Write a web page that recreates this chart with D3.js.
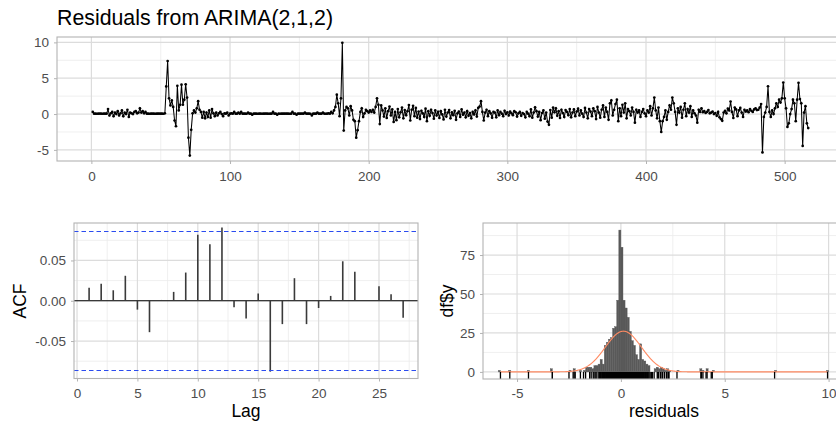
<!DOCTYPE html>
<html><head><meta charset="utf-8">
<script src="https://cdn.jsdelivr.net/npm/d3@7"></script>
<style>body{margin:0;background:#fff}svg{display:block}</style>
</head><body><svg id="c" width="836" height="428"></svg>
<script>
// ---------- DATA ----------
const residuals = [
0.3,0.05,0.05,0.04,0.05,0.06,0.05,0.04,0.05,0.05,
0.05,0.7,-0.2,0.1,0.3,-0.3,0.2,0.0,0.4,-0.2,
0.1,0.5,-0.3,0.2,0.0,0.6,-0.4,0.2,0.1,0.0,
0.3,0.4,0.1,0.2,0.8,0.2,0.4,0.1,0.3,0.05,
0.05,0.04,0.05,0.06,0.05,0.04,0.05,0.05,0.06,0.05,
0.05,0.04,0.1,3.85,7.4,2.2,1.2,1.9,1.0,-0.9,
-1.7,3.95,0.5,1.3,4.1,1.3,2.0,4.15,2.3,-3.3,
-5.8,-2.2,0.1,0.5,0.2,0.8,1.8,0.6,0.3,-0.5,
0.3,-0.6,0.2,-0.4,0.5,-0.5,0.7,0.1,-0.3,0.2,
-0.2,0.1,0.3,0.0,-0.3,0.1,0.05,0.2,-0.2,0.05,
0.1,0.05,0.3,0.05,0.05,0.2,0.05,0.3,0.05,0.05,
0.05,0.04,0.2,0.05,0.05,-0.1,0.05,0.05,0.05,0.04,
0.05,0.06,0.04,0.05,0.05,0.06,0.05,0.04,0.05,0.05,
0.3,0.05,0.05,-0.1,0.05,0.04,0.05,0.05,0.05,0.06,
0.05,0.05,0.04,0.05,0.3,0.05,0.05,-0.1,0.05,0.05,
0.05,0.06,0.05,0.2,0.05,0.05,0.05,0.04,-0.2,0.05,
0.05,0.05,0.2,0.05,0.05,0.05,0.2,0.05,0.04,0.05,
0.1,0.05,0.3,0.1,0.5,1.0,2.7,1.5,-0.3,2.2,
9.95,-2.3,0.5,1.0,0.8,-0.2,1.1,0.5,-0.8,-1.0,
-3.3,-2.25,-1.0,0.3,0.8,-0.4,0.1,0.6,0.4,0.2,
0.5,0.3,0.6,0.2,1.0,2.2,1.3,-1.4,1.2,0.5,
-0.35,0.8,-0.55,0.4,1.05,-0.2,0.65,-1.1,0.3,-0.85,
0.7,-0.45,0.25,0.9,-0.6,0.55,-0.15,0.4,1.25,-0.9,
0.6,1.15,-0.3,0.85,-0.5,0.35,-0.7,0.45,0.1,-0.4,
0.75,-1.0,0.4,-0.25,0.6,0.15,-0.65,0.5,-0.2,0.3,
-0.55,0.4,-0.05,-0.75,0.6,-0.35,0.2,0.55,-0.6,0.25,
-0.15,0.45,-0.8,0.1,0.35,-0.4,0.65,-0.1,0.2,-0.45,
0.4,-0.25,0.15,-0.6,0.3,-0.05,0.5,-0.35,0.85,1.05,
1.8,0.3,-0.9,0.2,0.6,-0.3,0.4,0.1,-0.5,0.3,
0.2,-0.45,0.5,-0.15,0.3,0.05,-0.3,0.45,0.0,0.25,
-0.2,0.35,0.1,-0.15,0.4,0.25,-0.35,0.1,0.3,-0.25,
0.15,0.0,-0.45,0.3,0.05,-0.3,0.65,-0.5,0.2,0.95,
0.4,-0.35,0.3,-0.85,0.15,0.5,-0.65,0.2,-1.05,-1.5,
0.55,-0.5,0.9,0.25,0.8,-0.25,0.4,-0.55,0.6,0.15,
-0.4,0.55,0.3,-0.15,0.7,-0.45,0.2,0.65,-0.3,0.35,
0.75,-0.2,0.5,0.05,-0.4,0.85,0.2,-0.6,0.7,0.35,
-0.3,0.8,0.4,-0.7,1.0,0.2,-0.5,0.6,1.2,-0.4,
0.9,0.3,-0.8,1.5,1.9,-0.2,0.6,1.4,2.0,-1.0,
0.8,-0.3,1.3,0.2,1.5,-0.6,0.7,0.4,-0.2,0.9,
0.3,-1.2,0.6,0.2,0.5,-0.4,0.3,0.7,0.1,-0.3,
0.5,0.2,1.1,-0.2,0.8,2.3,0.5,-0.6,0.9,-1.0,
-2.5,-1.0,-0.4,0.5,-0.8,0.3,1.2,0.6,2.3,1.5,
0.3,-1.5,0.8,0.2,1.0,-0.5,0.6,1.5,-0.3,0.7,
0.2,1.1,-0.4,0.5,0.1,-0.2,-1.2,0.6,0.3,0.8,
0.25,0.4,0.15,0.3,0.55,0.1,0.2,0.35,0.0,0.15,
-0.25,0.3,-0.45,-0.7,-0.95,0.2,0.45,0.1,0.75,0.5,
1.75,0.3,-0.55,0.9,0.65,-0.3,0.5,0.85,0.2,-0.4,
0.6,0.35,0.5,0.25,0.7,0.45,0.3,0.65,0.8,0.55,
0.6,0.9,1.4,-5.35,-0.4,0.2,1.0,3.88,0.3,-0.4,
0.5,0.0,0.8,1.5,1.0,2.0,1.6,2.2,4.4,2.2,
0.8,-1.8,-1.3,0.0,0.7,2.0,1.5,-1.0,2.0,4.35,
2.1,1.5,-4.45,0.2,1.1,-1.3,-1.95
];
const timeTicks = [0, 100, 200, 300, 400, 500];
const timeMinor = [50, 150, 250, 350, 450];
const residTicks = [-5, 0, 5, 10];
const residMinor = [-2.5, 2.5, 7.5];

const acfLags = [1,2,3,4,5,6,7,8,9,10,11,12,13,14,15,16,17,18,19,20,21,22,23,24,25,26,27];
const acfValues = [0.016,0.021,0.013,0.031,-0.011,-0.039,0.001,0.011,0.035,0.082,0.070,0.091,-0.008,-0.022,0.009,-0.088,-0.029,0.028,-0.029,-0.009,0.006,0.049,0.036,0.000,0.018,0.008,-0.021];
const acfBound = 0.0862;
const lagTicks = [0, 5, 10, 15, 20, 25];
const lagMinor = [2.5, 7.5, 12.5, 17.5, 22.5, 27.5];
const acfTicks = [-0.05, 0, 0.05];
const acfMinor = [-0.075, -0.025, 0.025, 0.075];

const binWidth = 0.1;
const histStart = [-5.9,-5.4,-4.5,-3.4,-2.5,-2.3,-2.0,-1.8,-1.7,-1.6,-1.5,-1.4,-1.3,-1.2,-1.1,-1.0,-0.9,-0.8,-0.7,-0.6,-0.5,-0.4,-0.3,-0.2,-0.1,
  0.0,0.1,0.2,0.3,0.4,0.5,0.6,0.7,0.8,0.9,1.0,1.1,1.2,1.3,1.6,1.7,1.8,1.9,2.0,2.1,2.2,2.3,2.7,3.8,3.9,4.1,4.4,7.4,9.9];
const histCount = [1,1,1,2,1,2,1,1,3,3,3,2,4,4,5,8,5,17,19,21,22,28,29,46,91,
  80,46,41,35,26,20,17,11,8,18,8,7,5,4,2,3,2,3,2,1,2,1,1,2,1,2,1,1,1];
const histXTicks = [-5, 0, 5, 10];
const histXMinor = [-2.5, 2.5, 7.5];
const histYTicks = [0, 25, 50, 75];
const histYMinor = [12.5, 37.5, 62.5, 87.5];
const normMean = 0.12, normSd = 0.87, normScale = 57;

// ---------- DRAWING ----------
const FONT = '"Liberation Sans", Arial, Helvetica, sans-serif';
const TICK_FS = 13.5, TITLE_FS = 17.5;
const svg = d3.select("#c").attr("font-family", FONT);
svg.append("rect").attr("width", 836).attr("height", 428).attr("fill", "#fff");

function panel(x, y, o) {
  const g = svg.append("g");
  const [xl, xr] = x.range(), [yb, yt] = y.range();
  const grid = (vals, vert, col, w) => g.append("g").selectAll("line").data(vals).join("line")
    .attr("x1", d => vert ? x(d) : xl).attr("x2", d => vert ? x(d) : xr)
    .attr("y1", d => vert ? yt : y(d)).attr("y2", d => vert ? yb : y(d))
    .attr("stroke", col).attr("stroke-width", w);
  grid(o.xMinor, true, "#EBEBEB", 0.8);
  grid(o.yMinor, false, "#EBEBEB", 0.8);
  grid(o.xMajor, true, "#DCDCDC", 1.2);
  grid(o.yMajor, false, "#DCDCDC", 1.2);
  const style = a => {
    a.attr("font-family", FONT).attr("font-size", TICK_FS);
    a.select(".domain").remove();
    a.selectAll(".tick line").attr("stroke", "#B3B3B3");
    a.selectAll(".tick text").attr("fill", "#4D4D4D");
  };
  g.append("g").attr("transform", `translate(0,${yb})`)
    .call(d3.axisBottom(x).tickValues(o.xMajor).tickSize(3).tickPadding(o.xPad).tickFormat(o.xFmt)).call(style);
  g.append("g").attr("transform", `translate(${xl},0)`)
    .call(d3.axisLeft(y).tickValues(o.yMajor).tickSize(3).tickPadding(5).tickFormat(o.yFmt)).call(style);
  const content = svg.append("g");
  const border = () => svg.append("rect").attr("x", xl).attr("y", yt).attr("width", xr - xl).attr("height", yb - yt)
    .attr("fill", "none").attr("stroke", "#B3B3B3").attr("stroke-width", 1.1);
  return { content, border };
}

// Top: residual time series
const xT = d3.scaleLinear().domain([-24.8, 542.8]).range([57, 844]);
const yT = d3.scaleLinear().domain([-6.55, 10.75]).range([161, 37]);
const pT = panel(xT, yT, { xMajor: timeTicks, xMinor: timeMinor, yMajor: residTicks, yMinor: residMinor,
  xFmt: d => String(d), yFmt: d => String(d), xPad: 7.5 });
const series = residuals.map((v, i) => [i + 1, v]);
pT.content.append("path").datum(series)
  .attr("d", d3.line().x(d => xT(d[0])).y(d => yT(d[1])))
  .attr("fill", "none").attr("stroke", "#000").attr("stroke-width", 1.05);
pT.content.selectAll("circle").data(series).join("circle")
  .attr("cx", d => xT(d[0])).attr("cy", d => yT(d[1])).attr("r", 1.35).attr("fill", "#000");
pT.border();
svg.append("text").attr("x", 57).attr("y", 25).attr("font-size", 21.5).attr("fill", "#000")
  .attr("textLength", 276).attr("lengthAdjust", "spacingAndGlyphs")
  .text("Residuals from ARIMA(2,1,2)");

// Bottom-left: ACF
const xA = d3.scaleLinear().domain([-0.25, 28.23]).range([74, 418]);
const yA = d3.scaleLinear().domain([-0.0965, 0.0965]).range([378.5, 223]);
const pA = panel(xA, yA, { xMajor: lagTicks, xMinor: lagMinor, yMajor: acfTicks, yMinor: acfMinor,
  xFmt: d => String(d), yFmt: d => d.toFixed(2), xPad: 6.5 });
pA.content.append("line").attr("x1", 74).attr("x2", 418).attr("y1", yA(0)).attr("y2", yA(0))
  .attr("stroke", "#000").attr("stroke-width", 1.1);
acfLags.forEach((lag, i) => {
  pA.content.append("line")
    .attr("x1", xA(lag)).attr("x2", xA(lag))
    .attr("y1", yA(0)).attr("y2", yA(acfValues[i]))
    .attr("stroke", "#3A3A3A").attr("stroke-width", 1.6);
});
const snap = v => Math.floor(v) + 0.5;
[acfBound, -acfBound].forEach(b => {
  pA.content.append("line")
    .attr("x1", 74).attr("x2", 418).attr("y1", snap(yA(b))).attr("y2", snap(yA(b)))
    .attr("stroke", "#2B4CF0").attr("stroke-width", 1.2).attr("stroke-dasharray", "4.5,3");
});
pA.border();
svg.append("text").attr("x", 246).attr("y", 417).attr("text-anchor", "middle").attr("font-size", TITLE_FS).text("Lag");
svg.append("text").attr("transform", "translate(26,301) rotate(-90)").attr("text-anchor", "middle")
  .attr("font-size", TITLE_FS).text("ACF");

// Bottom-right: histogram
const xH = d3.scaleLinear().domain([-6.64, 10.79]).range([483, 845]);
const yH = d3.scaleLinear().domain([-4.55, 95.55]).range([379, 223]);
const pH = panel(xH, yH, { xMajor: histXTicks, xMinor: histXMinor, yMajor: histYTicks, yMinor: histYMinor,
  xFmt: d => String(d), yFmt: d => String(d), xPad: 6.5 });
pH.content.selectAll("rect").data(histStart).join("rect")
  .attr("x", d => xH(d)).attr("width", d => xH(d + binWidth) - xH(d))
  .attr("y", (d, i) => yH(histCount[i])).attr("height", (d, i) => yH(0) - yH(histCount[i]))
  .attr("fill", "#595959").attr("stroke", "#595959").attr("stroke-width", 0.4);
const rMin = d3.min(residuals), rMax = d3.max(residuals);
const curveX = d3.range(rMin, rMax + 0.001, 0.02);
const dnorm = v => Math.exp(-0.5 * ((v - normMean) / normSd) ** 2) / (normSd * Math.sqrt(2 * Math.PI));
pH.content.append("path").datum(curveX)
  .attr("d", d3.line().x(d => xH(d)).y(d => yH(normScale * dnorm(d))))
  .attr("fill", "none").attr("stroke", "#FF8A62").attr("stroke-width", 1.1);
pH.content.selectAll("line.rug").data(residuals).join("line").attr("class", "rug")
  .attr("x1", d => xH(d)).attr("x2", d => xH(d)).attr("y1", 379).attr("y2", 372)
  .attr("stroke", "#000").attr("stroke-width", 1.3);
pH.border();
svg.append("text").attr("x", 664).attr("y", 417).attr("text-anchor", "middle").attr("font-size", TITLE_FS).text("residuals");
svg.append("text").attr("transform", "translate(453,301) rotate(-90)").attr("text-anchor", "middle")
  .attr("font-size", TITLE_FS).text("df$y");
</script></body></html>
